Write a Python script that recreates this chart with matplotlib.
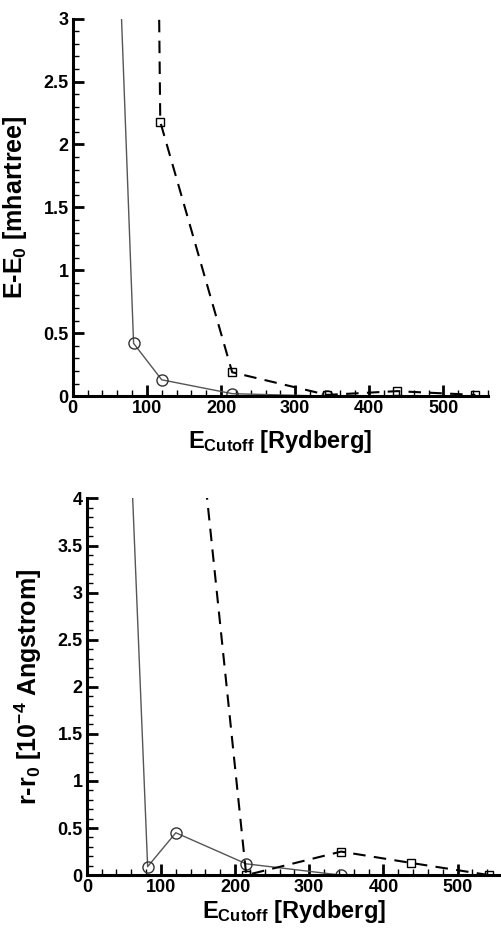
import matplotlib.pyplot as plt
from matplotlib.ticker import MultipleLocator

plt.rcParams['font.family'] = 'Liberation Sans'
plt.rcParams['font.weight'] = 'bold'
plt.rcParams['mathtext.fontset'] = 'custom'
plt.rcParams['mathtext.rm'] = 'Liberation Sans:bold'
plt.rcParams['mathtext.it'] = 'Liberation Sans:bold'
plt.rcParams['mathtext.bf'] = 'Liberation Sans:bold'

# top panel: energy convergence
e_solid_x = [50, 82, 120, 215, 343]
e_solid_y = [5.5, 0.42, 0.13, 0.02, 0.0]
e_dash_x = [82, 118, 215, 343, 437, 543]
e_dash_y = [22.0, 2.18, 0.19, 0.01, 0.04, 0.01]

# bottom panel: bond length convergence
r_solid_x = [50, 82, 120, 215, 343]
r_solid_y = [6.3, 0.09, 0.45, 0.12, 0.0]
r_dash_x = [120, 215, 343, 437, 543]
r_dash_y = [7.2, 0.0, 0.25, 0.13, 0.0]

fig = plt.figure(figsize=(5.02, 9.30), dpi=100)
ax1 = fig.add_axes([0.145, 0.574, 0.827, 0.406])
ax2 = fig.add_axes([0.173, 0.059, 0.827, 0.405])


def style(ax, sx, sy, dx, dy, ymax, xpad):
    ax.plot(sx, sy, color='#555555', lw=1.0, marker='o', ms=8,
            mfc='none', mec='#333333', mew=1.0)
    ax.plot(dx, dy, color='black', lw=1.5, ls=(0, (6, 4)), marker='s',
            ms=6, mfc='none', mec='black', mew=1.0)
    ax.set_xlim(0, 560)
    ax.set_ylim(0, ymax)
    ax.xaxis.set_major_locator(MultipleLocator(100))
    ax.xaxis.set_minor_locator(MultipleLocator(20))
    ax.yaxis.set_major_locator(MultipleLocator(0.5))
    ax.yaxis.set_minor_locator(MultipleLocator(0.1))
    ax.spines['top'].set_visible(False)
    ax.spines['right'].set_visible(False)
    ax.spines['left'].set_linewidth(2.2)
    ax.spines['bottom'].set_linewidth(2.2)
    ax.tick_params(which='major', direction='in', length=8, width=2,
                   labelsize=13, pad=3)
    ax.tick_params(which='minor', direction='in', length=4.5, width=1)
    ax.yaxis.set_major_formatter(plt.FuncFormatter(lambda v, p: f'{v:g}'))
    ax.set_xlabel(r'E$_{Cutoff}$ [Rydberg]', fontsize=17, fontweight='bold',
                  labelpad=xpad)


style(ax1, e_solid_x, e_solid_y, e_dash_x, e_dash_y, 3, 8)
ax1.set_ylabel(r'E-E$_0$ [mhartree]', fontsize=18, fontweight='bold', labelpad=10)

style(ax2, r_solid_x, r_solid_y, r_dash_x, r_dash_y, 4, 1)
ax2.set_ylabel(r'r-r$_0$ [10$^{-4}$ Angstrom]', fontsize=18, fontweight='bold',
               labelpad=10)

fig.savefig('out.png', dpi=100)
